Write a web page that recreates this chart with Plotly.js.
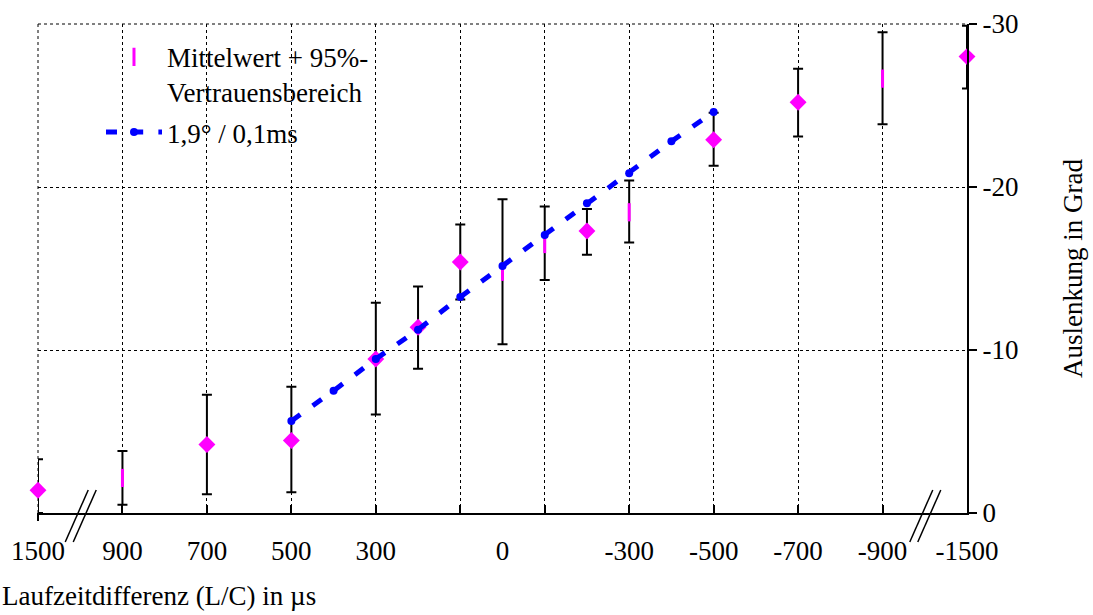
<!DOCTYPE html>
<html><head><meta charset="utf-8">
<script src="https://cdn.plot.ly/plotly-3.0.1.min.js"></script>
<style>html,body{margin:0;padding:0;background:#fff}</style>
</head><body><div id="chart" style="width:1093px;height:615px"></div>
<script>
// Laufzeitdifferenz (µs) of each measurement
const delays = [1500, 900, 700, 500, 300, 200, 100, 0, -100, -200, -300, -500, -700, -900, -1500];
// Mittelwert der Auslenkung (Grad)
const meanDeflection = [-1.4, -2.15, -4.2, -4.45, -9.45, -11.4, -15.4, -14.8, -16.5, -17.3, -18.45, -22.9, -25.2, -26.65, -28.0];
// 95%-Vertrauensbereich: end away from zero / end towards zero
const ciFarEnd  = [-3.3, -3.8, -7.25, -7.75, -12.9, -13.9, -17.7, -19.25, -18.8, -18.65, -20.4, -24.55, -27.25, -29.5, -29.9];
const ciNearEnd = [0.0, -0.5, -1.15, -1.27, -6.05, -8.85, -13.1, -10.35, -14.3, -15.85, -16.6, -21.3, -23.1, -23.85, -26.05];
const markerShape = ['diamond','line-ns','diamond','diamond','diamond','diamond','diamond','line-ns','line-ns','diamond','line-ns','diamond','diamond','line-ns','diamond'];

// Gerade 1,9° / 0,1ms
const fitDelays = [500, 400, 300, 200, 100, 0, -100, -200, -300, -400, -500];
const fitDeflection = [-5.65, -7.5, -9.45, -11.25, -13.25, -15.15, -17.05, -19.0, -20.85, -22.8, -24.6];

const tickDelays = [1500, 900, 700, 500, 300, 0, -300, -500, -700, -900, -1500];
const tickLabels = ['1500','900','700','500','300','0','-300','-500','-700','-900','-1500'];
const gridDelays = [900, 700, 500, 300, 100, -100, -300, -500, -700, -900];
const yTickVals = [0, -10, -20, -30];
const yTickLabels = ['0','-10','-20','-30'];
const breakDelay = 1000;

// broken axis: values beyond the break are drawn at +-1100
const AX_MAX = 1100;
function axisPos(d) { return Math.abs(d) > breakDelay ? Math.sign(d) * AX_MAX : d; }
// fraction of plot width for an axis position (range is reversed)
function paperX(d) { return (AX_MAX - axisPos(d)) / (2 * AX_MAX); }

const FONT = '"Liberation Serif", "Times New Roman", serif';
const FS = 27;
const MAGENTA = '#ff00ff';
const BLUE = '#0000ff';

const errPlus = meanDeflection.map((m, i) => ciNearEnd[i] - m);
const errMinus = meanDeflection.map((m, i) => m - ciFarEnd[i]);
function pick(arr, kind) { return arr.filter((_, i) => markerShape[i] === kind); }

function meanTrace(kind, show) {
  return {
    type: 'scatter', mode: 'markers',
    x: pick(delays.map(axisPos), kind), y: pick(meanDeflection, kind),
    error_y: { type: 'data', symmetric: false, array: pick(errPlus, kind), arrayminus: pick(errMinus, kind),
               color: '#000', thickness: 2, width: 5 },
    marker: kind === 'line-ns'
      ? { symbol: 'line-ns', size: 13, color: MAGENTA, line: { color: MAGENTA, width: 3 } }
      : { symbol: 'diamond', size: 13, color: MAGENTA, line: { width: 0 } },
    name: 'Mittelwert + 95%-<br>Vertrauensbereich',
    legendgroup: 'a', showlegend: show, cliponaxis: false, hoverinfo: 'skip'
  };
}

const traces = [
  meanTrace('line-ns', true),
  meanTrace('diamond', false),
  {
    type: 'scatter', mode: 'lines+markers',
    x: fitDelays.map(axisPos), y: fitDeflection,
    line: { color: BLUE, width: 5, dash: '11px,15.2px' },
    marker: { symbol: 'circle', size: 8, color: BLUE },
    name: '1,9° / 0,1ms', legendgroup: 'b', cliponaxis: false, hoverinfo: 'skip'
  }
];

function breakMarks(pos) {
  const s = { type: 'line', xref: 'paper', yref: 'paper', xsizemode: 'pixel', ysizemode: 'pixel',
              xanchor: paperX(pos), yanchor: 0, line: { color: '#000', width: 1.5 }, layer: 'above' };
  return [
    Object.assign({}, s, { x0: -15, y0: -29, x1: 8, y1: 23 }),
    Object.assign({}, s, { x0: -7, y0: -29, x1: 16, y1: 23 })
  ];
}
const dotted = { color: '#000', width: 1, dash: 'dot' };

const layout = {
  width: 1093, height: 615,
  margin: { l: 38, r: 126, t: 24, b: 102, pad: 0 },
  paper_bgcolor: '#fff', plot_bgcolor: '#fff',
  font: { family: FONT, size: FS, color: '#000' },
  showlegend: true,
  legend: { x: 0.0678, xanchor: 'left', y: 0.982, yanchor: 'top', bgcolor: 'rgba(0,0,0,0)', valign: 'top',
            borderwidth: 0, itemwidth: 56, tracegroupgap: 2, font: { family: FONT, size: FS, color: '#000' } },
  xaxis: {
    range: [AX_MAX, -AX_MAX], tickmode: 'array', tickvals: tickDelays.map(axisPos), ticktext: tickLabels,
    ticks: '', ticklabelstandoff: 13, showgrid: false, zeroline: false,
    showline: true, linecolor: '#000', linewidth: 2,
    minor: { tickmode: 'array', tickvals: gridDelays.map(axisPos), ticks: 'inside', ticklen: 8, tickwidth: 2,
             tickcolor: '#000', showgrid: true, gridcolor: '#000', gridwidth: 1, griddash: 'dot' },
    fixedrange: true
  },
  yaxis: {
    side: 'right', range: [0, -30], tickmode: 'array', tickvals: yTickVals, ticktext: yTickLabels,
    ticks: 'outside', ticklen: 8, tickwidth: 2, tickcolor: '#000',
    showline: true, linecolor: '#000', linewidth: 2,
    showgrid: true, gridcolor: '#000', gridwidth: 1, griddash: 'dot', zeroline: false,
    title: { text: 'Auslenkung in Grad', standoff: 46, font: { family: FONT, size: FS } },
    fixedrange: true
  },
  shapes: [
    // top and left frame (dotted, like the grid)
    { type: 'line', xref: 'paper', yref: 'paper', x0: 0, x1: 1, y0: 1, y1: 1, line: dotted, layer: 'between' },
    { type: 'line', xref: 'paper', yref: 'paper', x0: 0, x1: 0, y0: 0, y1: 1, line: dotted, layer: 'between' },
    // white legend box
    { type: 'rect', xref: 'paper', yref: 'paper', x0: 0.0045, x1: 0.41, y0: 0.673, y1: 0.986,
      fillcolor: '#fff', line: { width: 0 }, layer: 'between' },
    // outside tick at 1500
    { type: 'line', xref: 'paper', yref: 'paper', ysizemode: 'pixel', yanchor: 0, x0: paperX(1500), x1: paperX(1500),
      y0: 0, y1: -8, line: { color: '#000', width: 2 }, layer: 'above' }
  ].concat(breakMarks(breakDelay), breakMarks(-breakDelay)),
  annotations: [
    { text: 'Laufzeitdifferenz (L/C) in µs', xref: 'paper', yref: 'paper', x: -0.0409, xanchor: 'left',
      y: -0.17, yanchor: 'middle', showarrow: false, font: { family: FONT, size: FS, color: '#000' } }
  ]
};

Plotly.newPlot('chart', traces, layout, { displayModeBar: false, staticPlot: true });
</script>
</body></html>
